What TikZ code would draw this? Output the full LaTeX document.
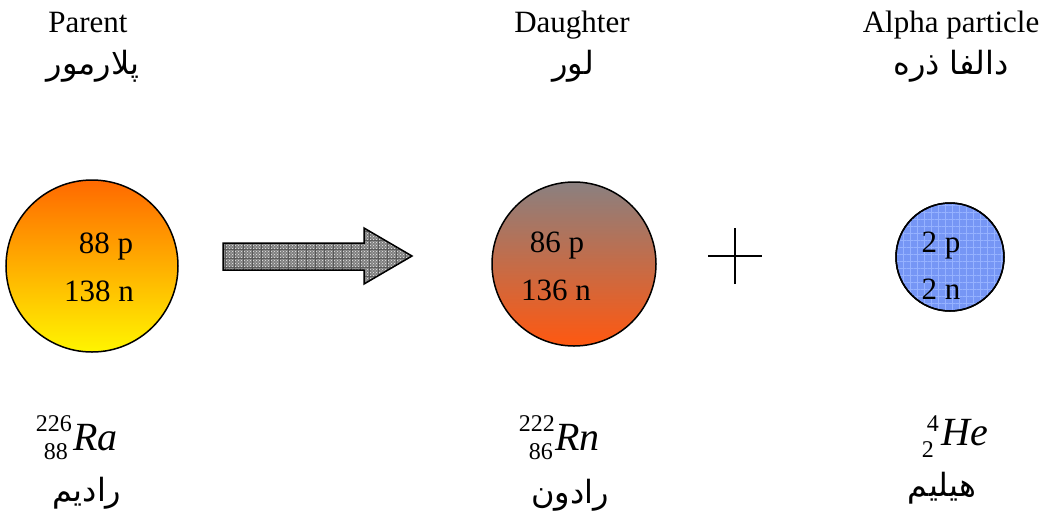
\documentclass[tikz,border=0pt]{standalone}
\usepackage{fontspec}
\setmainfont{Liberation Serif}
\newfontfamily\arabicfont[Script=Arabic]{DejaVu Sans}
\TeXXeTstate=1
\usetikzlibrary{patterns,patterns.meta}
\definecolor{parTop}{RGB}{255,105,0}
\definecolor{parBot}{RGB}{255,245,0}
\definecolor{dauTop}{RGB}{138,128,128}
\definecolor{dauBot}{RGB}{255,88,16}
\definecolor{alphaBlue}{RGB}{118,150,245}
\definecolor{alphaGrid}{RGB}{150,178,255}
\definecolor{arrowGray}{RGB}{128,128,128}
\tikzset{
  lbl/.style={anchor=base,inner sep=0pt,font=\fontsize{31}{36}\selectfont},
  ar/.style={inner sep=0pt,font=\arabicfont\fontsize{32}{38}\selectfont},
  big/.style={anchor=base west,inner sep=0pt,font=\fontsize{40}{46}\selectfont\itshape},
  idx/.style={inner sep=0pt,font=\fontsize{24}{28}\selectfont},
  ball/.style={circle,draw=black,line width=1.5pt,inner sep=0pt},
}
\begin{document}
\begin{tikzpicture}[x=1pt,y=-1pt]
\useasboundingbox (0,0) rectangle (1047,520);
% headers
\node[lbl] (h1) at (88,32) {Parent};
\node[ar] (p1) at (93,66) {\beginR پلارمور\endR};
\node[lbl] (h2) at (572,32) {Daughter};
\node[ar] (p2) at (573,66) {\beginR لور\endR};
\node[lbl] (h3) at (951,32) {Alpha particle};
\node[ar] (p3) at (951,66) {\beginR دالفا ذره\endR};
% circles
\node[ball,minimum size=172pt,top color=parTop,bottom color=parBot] (parent) at (92,266) {};
\node[ball,minimum size=164pt,top color=dauTop,bottom color=dauBot] (daughter) at (574,264) {};
\node[ball,minimum size=108pt,fill=alphaBlue] (alpha) at (950,257) {};
\path[pattern={Lines[angle=0,distance=7pt,line width=0.8pt]},pattern color=alphaGrid] (alpha.center) circle[radius=53pt];
\path[pattern={Lines[angle=90,distance=7pt,line width=0.8pt]},pattern color=alphaGrid] (alpha.center) circle[radius=53pt];
\draw[line width=1.5pt] (alpha.center) circle[radius=54pt];
% circle texts
\node[lbl] (t1) at (106,253) {88 p};
\node[lbl] (t2) at (99,301) {138 n};
\node[lbl] (t3) at (557,252) {86 p};
\node[lbl] (t4) at (556,300) {136 n};
\node[lbl] (t5) at (941,252) {2 p};
\node[lbl] (t6) at (941,299) {2 n};
% block arrow
\coordinate (a1) at (223,243);
\coordinate (a2) at (364,243);
\coordinate (a3) at (364,228);
\coordinate (a4) at (412,256);
\coordinate (a5) at (364,284);
\coordinate (a6) at (364,270);
\coordinate (a7) at (223,270);
\fill[arrowGray] (a1)--(a2)--(a3)--(a4)--(a5)--(a6)--(a7)--cycle;
\path[pattern=crosshatch dots,pattern color=white!85!gray] (a1)--(a2)--(a3)--(a4)--(a5)--(a6)--(a7)--cycle;
\path[pattern={Lines[angle=0,distance=9pt,line width=1pt]},pattern color=black!65] (a1)--(a2)--(a3)--(a4)--(a5)--(a6)--(a7)--cycle;
\path[pattern={Lines[angle=90,distance=9pt,line width=1pt]},pattern color=black!65] (a1)--(a2)--(a3)--(a4)--(a5)--(a6)--(a7)--cycle;
\draw[line width=1.5pt,line join=miter] (a1)--(a2)--(a3)--(a4)--(a5)--(a6)--(a7)--cycle;
% plus
\coordinate (pc) at (735,256);
\draw[line width=1.2pt] ([xshift=-27pt]pc) -- ([xshift=27pt]pc);
\draw[line width=1.2pt] ([yshift=-28pt]pc) -- ([yshift=28pt]pc);
% nuclide symbols
\node[idx,anchor=east] (ra1) at (72,424) {226};
\node[idx,anchor=east] (ra2) at (68,452) {88};
\node[big] (ra) at (73,450) {Ra};
\node[ar] (ra3) at (87,493) {\beginR رادیم\endR};
\node[idx,anchor=east] (rn1) at (555,424) {222};
\node[idx,anchor=east] (rn2) at (553,452) {86};
\node[big] (rn) at (555,450) {Rn};
\node[ar] (rn3) at (570,495) {\beginR رادون\endR};
\node[idx,anchor=east] (he1) at (939,424) {4};
\node[idx,anchor=east] (he2) at (934,450) {2};
\node[big] (he) at (941,445) {He};
\node[ar] (he3) at (942,488) {\beginR هیلیم\endR};
\end{tikzpicture}
\end{document}
